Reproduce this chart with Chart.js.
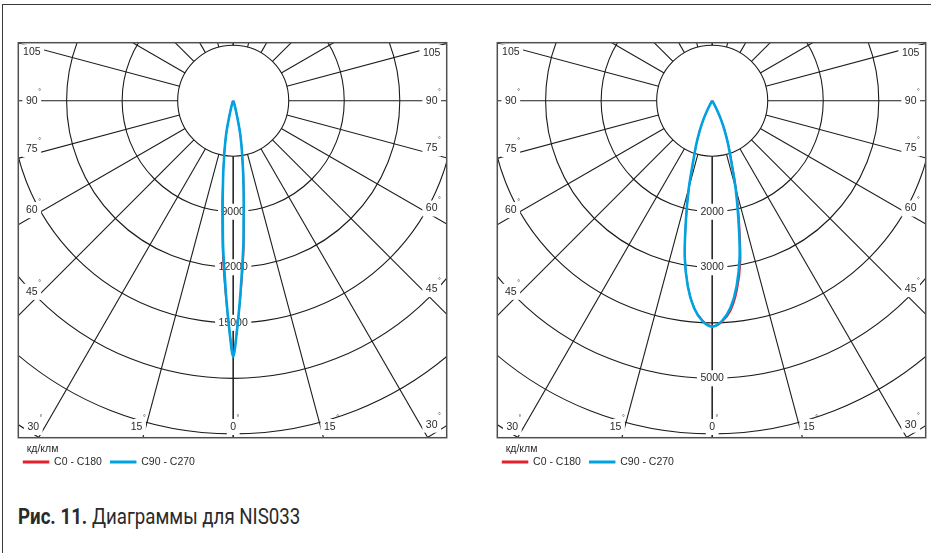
<!DOCTYPE html>
<html>
<head>
<meta charset="utf-8">
<title>NIS033</title>
<script src="https://cdn.jsdelivr.net/npm/chart.js@4.4.1/dist/chart.umd.min.js"></script>
<style>
  html, body { margin: 0; padding: 0; background: #fff; }
  body { width: 931px; height: 553px; position: relative; overflow: hidden; }
  .frame {
    position: absolute; left: 2px; top: 4px; width: 960px; height: 580px;
    border-left: 1.5px solid #3a3a3a; border-top: 1.5px solid #3a3a3a;
  }
  canvas { position: absolute; top: 0; }
  #leftChart { left: 0; }
  #rightChart { left: 479px; }
  .caption {
    position: absolute; left: 18px; top: 506px; white-space: nowrap;
    font-family: Roboto, sans-serif; font-size: 22px; line-height: 22px; color: #2a2a2a;
    transform-origin: 0 0;
  }
  .caption b { font-weight: 700; }
</style>
</head>
<body>
<div class="frame"></div>
<canvas id="leftChart" width="470" height="480"></canvas>
<canvas id="rightChart" width="470" height="480"></canvas>
<div class="caption" id="caption"><b>Рис. 11.</b> Диаграммы для NIS033</div>

<script>
// angles measured from nadir (0) to horizontal (90), degrees
const leftAngles = [0, 1, 2, 3, 4, 5, 6, 7, 8, 9, 10, 12, 14, 16, 18, 20, 25, 30, 45, 60, 90];
// cd/klm, left diagram (its centre sits at 3000)
const leftC0   = [16800, 15280, 13780, 12420, 11120, 9720, 8640, 7680, 6930, 6230, 5740, 4810, 3890, 3440, 3260, 3150, 3050, 3000, 3000, 3000, 3000];
const leftC180 = [16800, 15300, 13840, 12480, 11180, 9780, 8690, 7640, 6890, 6190, 5700, 4800, 3880, 3440, 3250, 3150, 3050, 3000, 3000, 3000, 3000];
const leftC90  = [16840, 15310, 13670, 12130, 10850, 9440, 8430, 7530, 6840, 6150, 5680, 4790, 3870, 3430, 3250, 3150, 3050, 3000, 3000, 3000, 3000];
const leftRingTicks = [9000, 12000, 15000];

const rightAngles = [0, 2.5, 5, 7.5, 10, 12.5, 15, 17.5, 20, 22.5, 25, 27.5, 30, 35, 40, 50, 60, 90];
const rightC0   = [4060, 3990, 3800, 3440, 2940, 2260, 1690, 1180, 870, 610, 390, 175, 60, 10, 0, 0, 0, 0];
const rightC180 = [4060, 3960, 3740, 3360, 2840, 2170, 1615, 1120, 830, 585, 375, 165, 55, 10, 0, 0, 0, 0];
const rightC90  = [4070, 3975, 3750, 3370, 2850, 2180, 1625, 1130, 840, 590, 380, 170, 60, 10, 0, 0, 0, 0];
const rightRingTicks = [2000, 3000, 5000];

const angleTicks = [0, 15, 30, 45, 60, 75, 90, 105];
const seriesNames = ['C0 - C180', 'C90 - C270'];
const unitLabel = 'кд/клм';

const RED = '#e4202a';
const BLUE = '#00a3e2';
const INK = '#2b2b2b';
const FONT = '10.5px "Liberation Sans", Arial, sans-serif';

// polar -> x/y in value units, x to the right, y downward from the centre
function halfCurve(angles, values, centre, side) {
    return angles.map((a, i) => {
        const r = Math.max(values[i] - centre, 0);
        const t = a * Math.PI / 180;
        return { x: side * r * Math.sin(t), y: r * Math.cos(t) };
    });
}

function closedCurve(angles, leftVals, rightVals, centre) {
    const l = halfCurve(angles, leftVals, centre, -1).reverse();
    const r = halfCurve(angles, rightVals, centre, 1).slice(1);
    return l.concat(r);
}

function labelBox(ctx, text, x, y) {
    const w = ctx.measureText(text).width;
    ctx.fillStyle = '#fff';
    ctx.fillRect(x - w / 2 - 3.5, y - 8, w + 7, 16);
    ctx.fillStyle = INK;
    ctx.fillText(text, x, y);
    return w;
}

const polarGrid = {
    id: 'polarGrid',
    beforeDatasetsDraw(chart, args, o) {
        const { ctx, chartArea: a, scales: { x, y } } = chart;
        const cx = x.getPixelForValue(0);
        const cy = y.getPixelForValue(0);
        const ring = x.getPixelForValue(o.step) - cx;

        ctx.save();
        ctx.beginPath();
        ctx.rect(a.left, a.top, a.width, a.height);
        ctx.clip();

        ctx.strokeStyle = '#1c1c1c';
        ctx.lineWidth = 1.1;
        for (let k = 1; k <= 7; k++) {
            ctx.beginPath();
            ctx.arc(cx, cy, k * ring, 0, Math.PI * 2);
            ctx.stroke();
        }
        for (let deg = 0; deg <= 180; deg += 15) {
            const t = deg * Math.PI / 180;
            [-1, 1].forEach(side => {
                const dx = side * Math.sin(t), dy = Math.cos(t);
                ctx.beginPath();
                ctx.moveTo(cx + dx * ring, cy + dy * ring);
                ctx.lineTo(cx + dx * ring * 9, cy + dy * ring * 9);
                ctx.stroke();
            });
        }

        ctx.font = FONT;
        ctx.textAlign = 'center';
        ctx.textBaseline = 'middle';

        // intensity labels down the 0 line
        o.ringTicks.forEach(v => {
            const py = y.getPixelForValue(v - o.centre);
            labelBox(ctx, String(v), cx, py);
        });

        // angle labels round the edge of the box
        const xl = a.left + 13.5, xr = a.right - 15, yb = a.bottom - 10.7;
        angleTicks.forEach(deg => {
            const sides = deg === 0 ? [1] : [-1, 1];
            sides.forEach(side => {
                const phi = (deg + 1.5 * Math.sign(90 - deg)) * Math.PI / 180;
                const dx = deg === 0 ? 0 : side * Math.sin(phi);
                const dy = deg === 0 ? 1 : Math.cos(phi);
                let t = Infinity;
                if (dx < 0) t = Math.min(t, (xl - cx) / dx);
                if (dx > 0) t = Math.min(t, (xr - cx) / dx);
                if (dy > 0) t = Math.min(t, (yb - cy) / dy);
                const px = cx + dx * t, py = cy + dy * t;
                const w = labelBox(ctx, String(deg), px, py);
                ctx.save();
                ctx.font = '7px "Liberation Sans", Arial, sans-serif';
                ctx.textAlign = 'left';
                ctx.fillText('°', px + w / 2 + 0.5, py - 8.5);
                ctx.restore();
            });
        });
        ctx.restore();

        ctx.save();
        ctx.strokeStyle = '#505050';
        ctx.lineWidth = 1.5;
        ctx.strokeRect(a.left, a.top, a.width, a.height);
        ctx.restore();
    },
    afterDraw(chart, args, o) {
        const { ctx, chartArea: a } = chart;
        ctx.save();
        ctx.font = FONT;
        ctx.textBaseline = 'middle';
        ctx.textAlign = 'left';
        ctx.fillStyle = INK;
        ctx.fillText(o.unit, a.left + 8.4, a.bottom + 11.3);

        const yi = a.bottom + 24.3;
        let cur = a.left + 4.5;
        chart.data.datasets.forEach(ds => {
            ctx.fillStyle = ds.borderColor;
            ctx.fillRect(cur, yi - 1.5, 26.5, 3);
            cur += 26.5 + 4.8;
            ctx.fillStyle = INK;
            ctx.fillText(ds.label, cur, yi);
            cur += ctx.measureText(ds.label).width + 8;
        });
        ctx.restore();
    }
};

function makeDiagram(id, angles, c0, c180, c90, centre, step, ringTicks) {
    const ctx = document.getElementById(id).getContext('2d');
    return new Chart(ctx, {
        type: 'scatter',
        data: {
            datasets: [
                {
                    label: seriesNames[0],
                    data: closedCurve(angles, c180, c0, centre),
                    showLine: true,
                    borderColor: RED,
                    backgroundColor: RED,
                    borderWidth: 1.6,
                    pointRadius: 0,
                    tension: 0.3,
                    order: 1
                },
                {
                    label: seriesNames[1],
                    data: closedCurve(angles, c90, c90, centre),
                    showLine: true,
                    borderColor: BLUE,
                    backgroundColor: BLUE,
                    borderWidth: 2.6,
                    pointRadius: 0,
                    tension: 0.3,
                    order: 0
                }
            ]
        },
        options: {
            responsive: false,
            animation: false,
            layout: { padding: { left: 18.3, top: 42.7, right: 23.3, bottom: 42.3 } },
            scales: {
                x: { type: 'linear', display: false, min: -3.87 * step, max: 3.845 * step },
                y: { type: 'linear', display: false, reverse: true, min: -1.045 * step, max: 6.07 * step }
            },
            plugins: {
                legend: { display: false },
                tooltip: { enabled: false },
                polarGrid: { step: step, centre: centre, ringTicks: ringTicks, unit: unitLabel }
            }
        },
        plugins: [polarGrid]
    });
}

makeDiagram('leftChart', leftAngles, leftC0, leftC180, leftC90, 3000, 3000, leftRingTicks);
makeDiagram('rightChart', rightAngles, rightC0, rightC180, rightC90, 0, 1000, rightRingTicks);

// squeeze the caption to the width of the original lettering
const cap = document.getElementById('caption');
cap.style.transform = 'scaleX(' + (282 / cap.offsetWidth) + ')';
</script>
</body>
</html>
